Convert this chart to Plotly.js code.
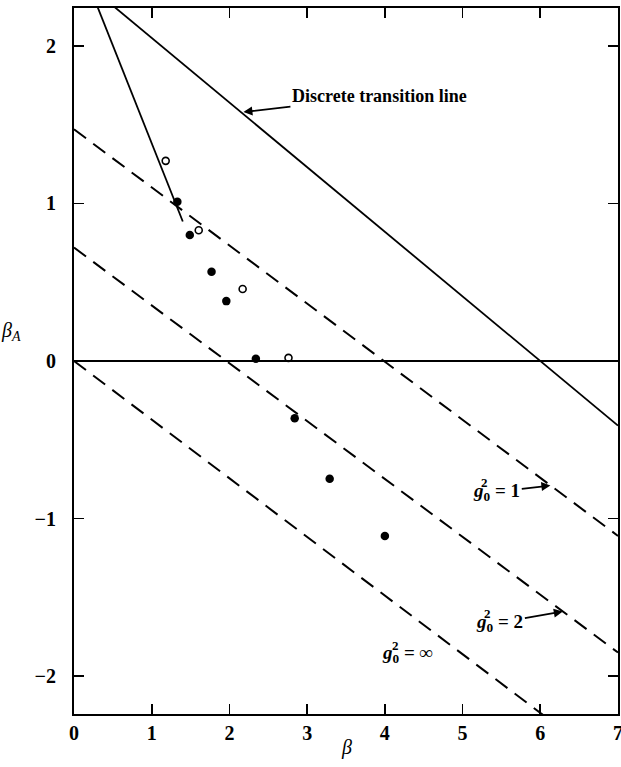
<!DOCTYPE html>
<html>
<head>
<meta charset="utf-8">
<script src="https://cdn.plot.ly/plotly-3.0.1.min.js"></script>
<style>html,body{margin:0;padding:0;background:#fff;}#chart{width:621px;height:767px;}</style>
</head>
<body>
<div id="chart"></div>
<script>
// ---- data ----
const xTicks = [0, 1, 2, 3, 4, 5, 6, 7];
const yTicks = [-2, -1, 0, 1, 2];

// discrete transition line (solid)
const transitionX = [0, 7];
const transitionY = [2.46, -0.41];

// steep solid line through the upper points
const steepX = [0.26, 1.40];
const steepY = [2.30, 0.885];

// dashed lines
const g1X = [0, 7];      const g1Y = [1.47, -1.11];
const g2X = [0, 7];      const g2Y = [0.72, -1.85];
const gInfX = [0, 6.1];  const gInfY = [0, -2.27];

// open circles
const openX = [1.18, 1.605, 2.17, 2.76];
const openY = [1.27, 0.83, 0.457, 0.02];

// filled circles
const filledX = [1.33, 1.49, 1.77, 1.96, 2.34, 2.84, 3.29, 4.00];
const filledY = [1.01, 0.80, 0.567, 0.38, 0.015, -0.364, -0.747, -1.11];

// line labels
const labelText = ['= 1', '= 2', '= ∞'];

const serif = '"Liberation Serif", "DejaVu Serif", serif';

const dashStyle = {color: '#000', width: 2, dash: '15px,9px'};
const traces = [
  {x: transitionX, y: transitionY, mode: 'lines', line: {color: '#000', width: 1.8}, hoverinfo: 'skip'},
  {x: steepX, y: steepY, mode: 'lines', line: {color: '#000', width: 1.8}, hoverinfo: 'skip'},
  {x: g1X, y: g1Y, mode: 'lines', line: dashStyle, hoverinfo: 'skip'},
  {x: g2X, y: g2Y, mode: 'lines', line: dashStyle, hoverinfo: 'skip'},
  {x: gInfX, y: gInfY, mode: 'lines', line: dashStyle, hoverinfo: 'skip'},
  {x: openX, y: openY, mode: 'markers', marker: {symbol: 'circle-open', size: 7, color: '#000', line: {width: 1.6, color: '#000'}}},
  {x: filledX, y: filledY, mode: 'markers', marker: {symbol: 'circle', size: 8.5, color: '#000'}}
];

const axisCommon = {
  showline: true, linecolor: '#000', linewidth: 2, mirror: 'ticks',
  ticks: 'inside', ticklen: 10, tickwidth: 1.6, tickcolor: '#000',
  showgrid: false, ticklabeloverflow: 'allow',
  tickfont: {family: serif, size: 20, color: '#000', weight: 'bold'}
};

const labelFont = {family: serif, size: 19, color: '#000'};
const supFont = {family: serif, size: 13, color: '#000', weight: 'bold'};

function gLabel(cx, cy, suffix, tip) {
  const out = [];
  const main = {x: cx, y: cy, text: '<b><i>g</i><sub>0</sub> ' + suffix + '</b>', font: labelFont, showarrow: false};
  if (tip) {
    Object.assign(main, {x: tip[0], y: tip[1], ax: cx, ay: cy, axref: 'x', ayref: 'y', showarrow: true,
      arrowhead: 2, arrowsize: 1, arrowwidth: 1.8, arrowcolor: '#000'});
  }
  out.push(main);
  out.push({x: cx, y: cy, xshift: -12, yshift: 9, text: '2', font: supFont, showarrow: false});
  return out;
}

const layout = {
  width: 621, height: 767,
  margin: {l: 74, r: 3, t: 8, b: 53},
  paper_bgcolor: '#fff', plot_bgcolor: '#fff',
  showlegend: false,
  xaxis: Object.assign({}, axisCommon, {
    range: [0, 7], tickvals: xTicks, zeroline: false,
    ticklabelstandoff: 0
  }),
  yaxis: Object.assign({}, axisCommon, {
    range: [-2.24, 2.24], tickvals: yTicks,
    zeroline: true, zerolinecolor: '#000', zerolinewidth: 1.6,
    ticklabelstandoff: 12
  }),
  annotations: [
    {x: 2.18, y: 1.58, ax: 3.93, ay: 1.68, axref: 'x', ayref: 'y',
     text: '<b>Discrete transition line</b>', showarrow: true, arrowhead: 2, arrowsize: 1, arrowwidth: 1.8,
     arrowcolor: '#000', font: {family: serif, size: 18, color: '#000'}},
    ...gLabel(5.44, -0.83, labelText[0], [6.13, -0.79]),
    ...gLabel(5.48, -1.66, labelText[1], [6.29, -1.59]),
    ...gLabel(4.29, -1.86, labelText[2], null),
    {xref: 'paper', yref: 'y', x: -0.115, y: 0.19, xanchor: 'center', showarrow: false,
     text: '<i>β<sub>A</sub></i>', font: {family: serif, size: 20, color: '#000'}},
    {xref: 'paper', yref: 'paper', x: 0.5, y: -0.048, xanchor: 'center', yanchor: 'middle', showarrow: false,
     text: '<i>β</i>', font: {family: serif, size: 20, color: '#000'}}
  ]
};

Plotly.newPlot('chart', traces, layout, {displayModeBar: false, staticPlot: true});
</script>
</body>
</html>
